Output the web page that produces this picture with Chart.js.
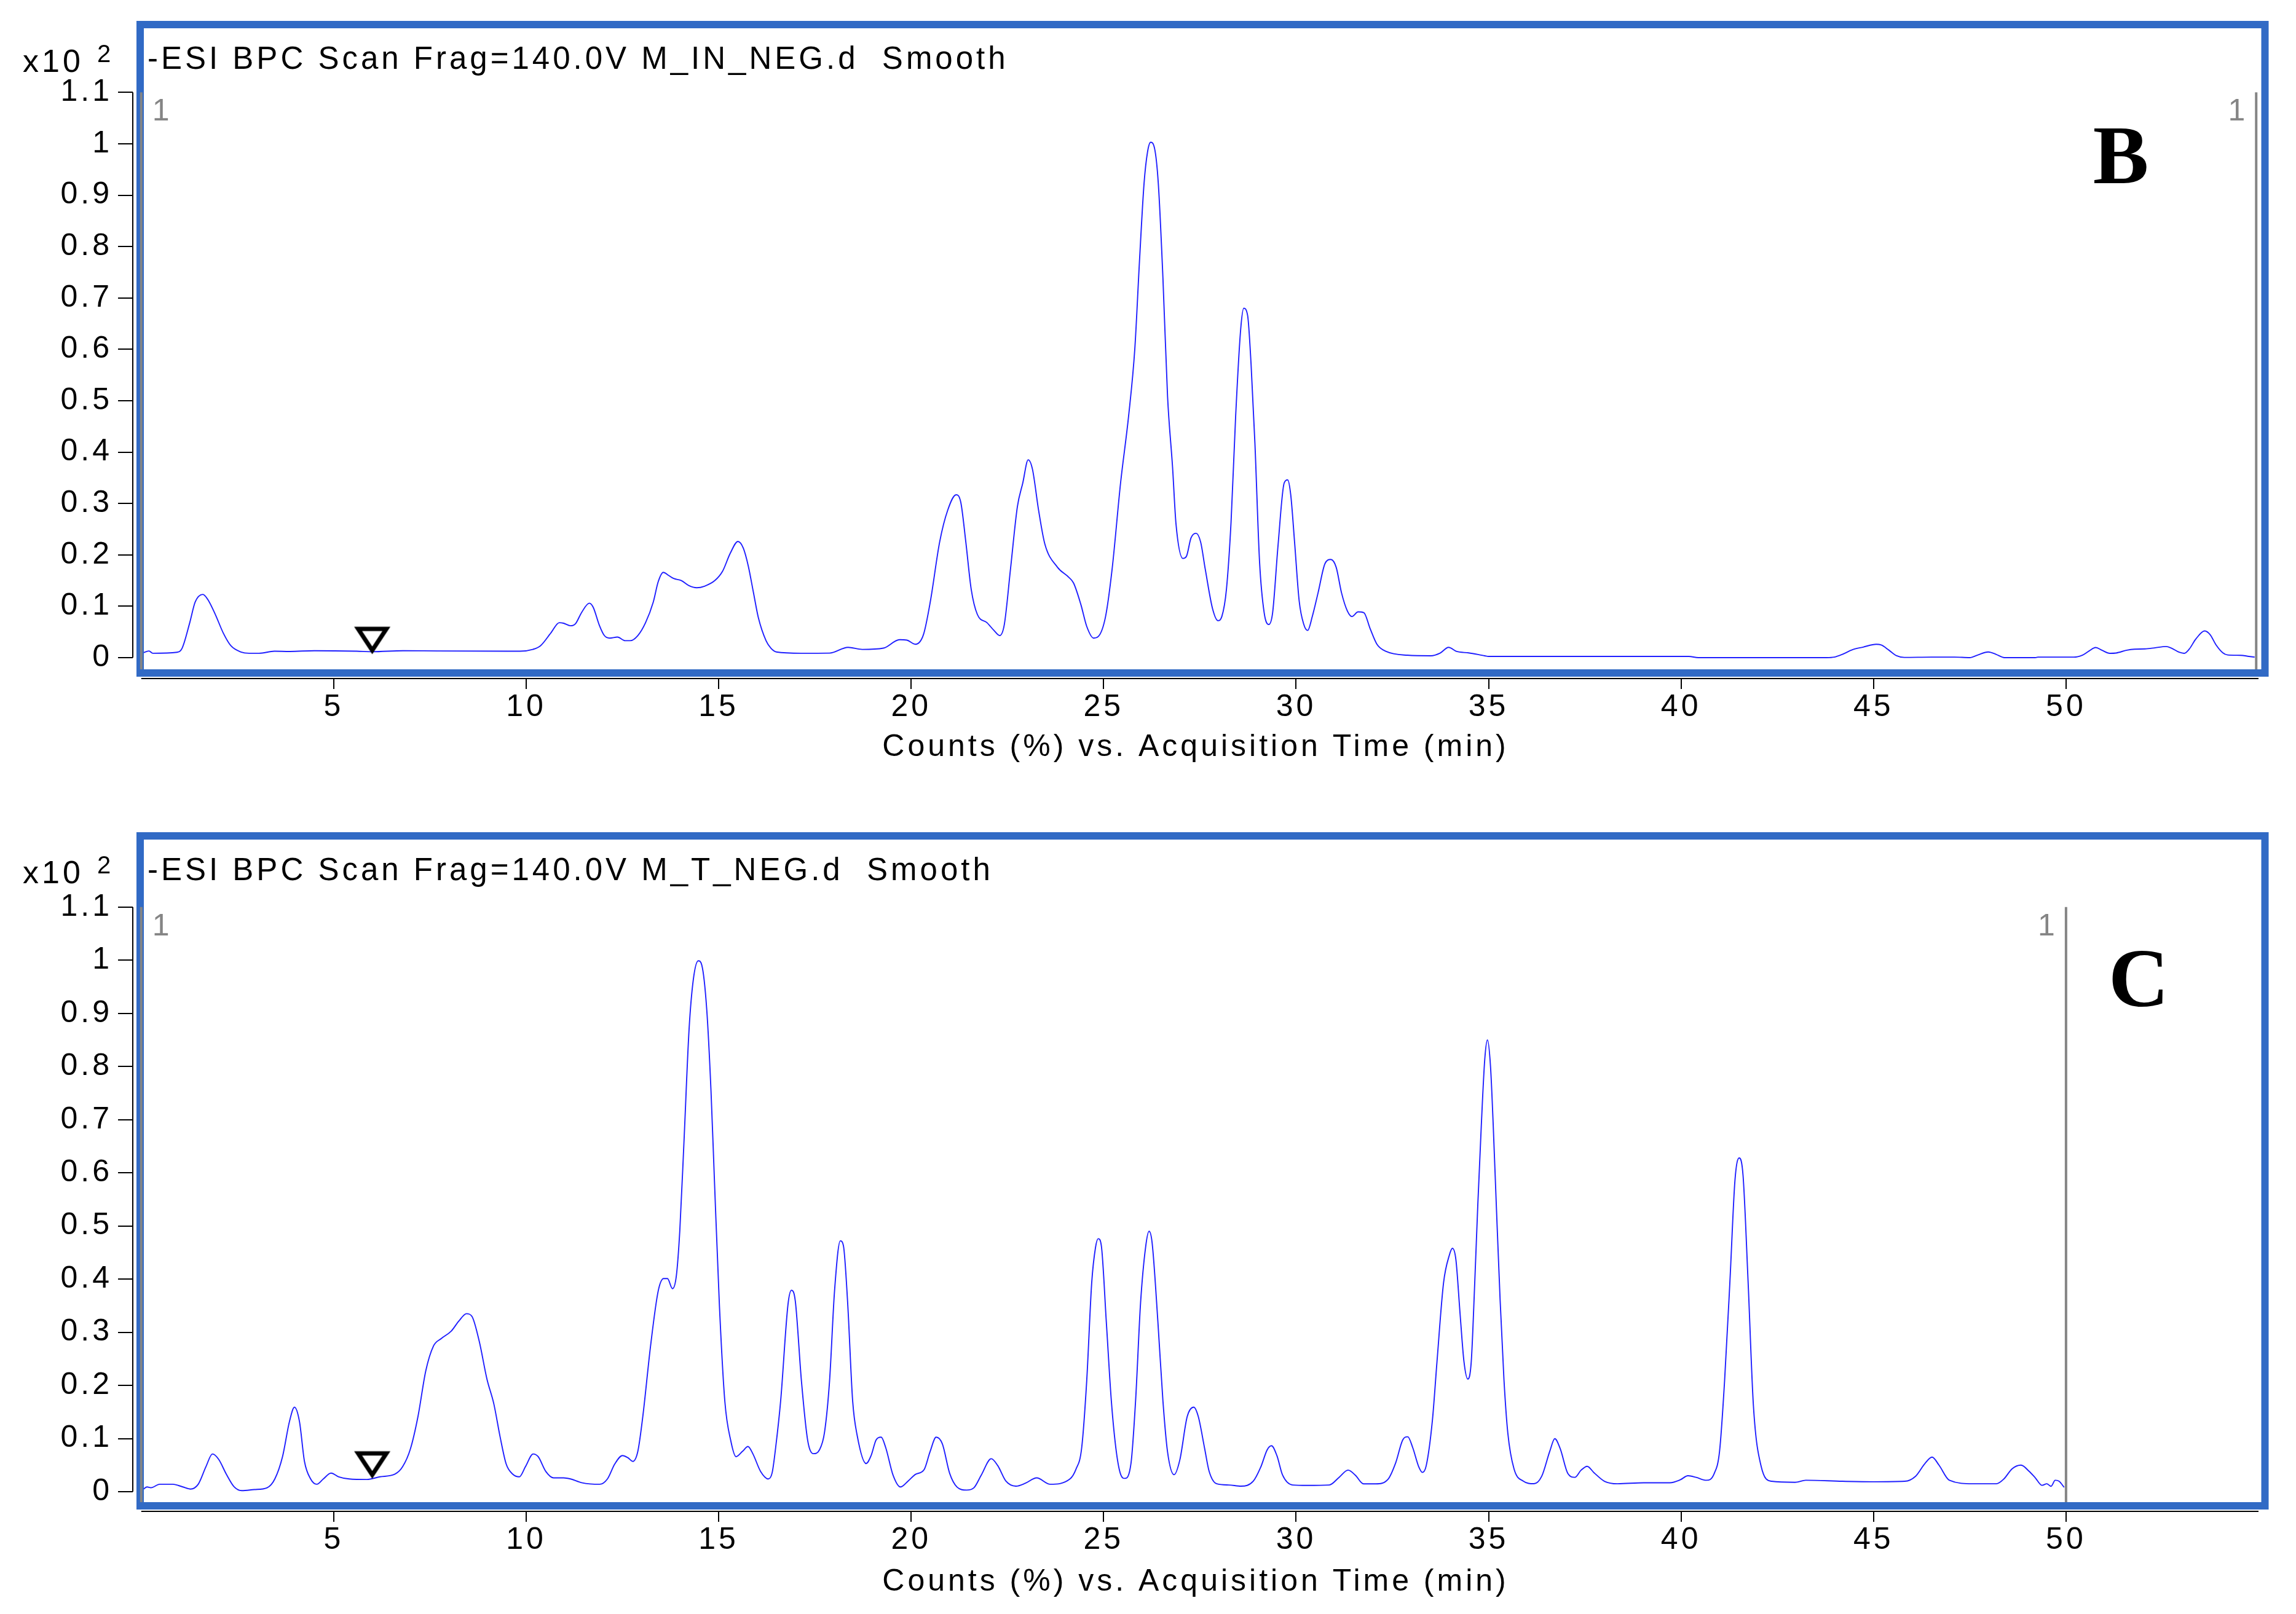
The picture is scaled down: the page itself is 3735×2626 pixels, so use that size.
<!DOCTYPE html>
<html>
<head>
<meta charset="utf-8">
<title>BPC chromatograms</title>
<script src="https://cdn.jsdelivr.net/npm/chart.js@4.4.1/dist/chart.umd.min.js"></script>
<style>
    html, body { margin: 0; padding: 0; background: #fff; }
    body { width: 3735px; height: 2626px; position: relative; overflow: hidden; }
    canvas { position: absolute; left: 0; }
</style>
</head>
<body>
<canvas id="chartB" width="3735" height="1300" style="top:0px"></canvas>
<canvas id="chartC" width="3735" height="1326" style="top:1300px"></canvas>
<script>
// Trace B: M_IN_NEG.d  (time in min, counts in x10^2 %)
const timeB = [0.05, 0.2, 0.3, 0.93, 1.06, 1.26, 1.4, 1.6, 1.73, 1.93, 2.13, 2.33, 2.59, 2.8, 3.06, 3.46, 3.86, 4.5, 5.6, 6.0, 6.8, 7.7, 9.57, 9.84,
    10.17, 10.37, 10.64, 10.86, 10.97, 11.15, 11.28, 11.44, 11.64, 11.74, 11.9, 12.03, 12.17, 12.37, 12.57, 12.7, 12.9, 13.1, 13.3, 13.43, 13.56, 13.7, 13.83,
    14.03, 14.23, 14.43, 14.63, 14.9, 15.1, 15.3, 15.5, 15.64, 15.77, 15.9, 16.03, 16.23, 16.36, 16.5, 17.14, 17.88, 18.36, 18.73, 19.28, 19.7, 19.89,
    20.11, 20.32, 20.5, 20.74, 20.95, 21.17, 21.29, 21.42, 21.56, 21.72, 21.97, 22.15, 22.3, 22.42, 22.58, 22.76, 22.9, 23.04, 23.15, 23.31, 23.47, 23.8,
    24.1, 24.22, 24.41, 24.56, 24.74, 24.86, 25.05, 25.22, 25.44, 25.65, 25.81, 25.93, 26.05, 26.14, 26.22, 26.32, 26.42, 26.54, 26.66, 26.79, 26.88,
    27.06, 27.15, 27.27, 27.4, 27.52, 27.64, 27.83, 27.97, 28.07, 28.19, 28.31, 28.43, 28.56, 28.64, 28.74, 28.83, 28.93, 29.05, 29.17, 29.29, 29.39,
    29.53, 29.69, 29.78, 29.86, 29.96, 30.08, 30.2, 30.3, 30.42, 30.57, 30.75, 30.9, 31.04, 31.18, 31.33, 31.45, 31.61, 31.76, 31.92, 32.1, 32.34,
    32.89, 33.5, 33.74, 33.96, 34.17, 34.48, 34.9, 35.0, 40.2, 40.45, 42.5, 43.78, 43.98, 44.19, 44.46, 44.73, 45.07, 45.2, 45.4, 45.6, 45.8, 46.5,
    47.1, 47.5, 47.7, 47.98, 48.18, 48.4, 49.2, 49.27, 50.2, 50.43, 50.6, 50.77, 50.93, 51.14, 51.3, 51.58, 51.78, 52.05, 52.3, 52.6, 52.74, 52.94,
    53.07, 53.2, 53.37, 53.6, 53.74, 53.9, 54.07, 54.2, 54.54, 54.75, 54.9];
const countsB = [0.0095, 0.013, 0.0085, 0.0105, 0.018, 0.068, 0.108, 0.123, 0.113, 0.083, 0.048, 0.023, 0.011, 0.0085, 0.0085, 0.0125, 0.012, 0.0135, 0.0125, 0.0115, 0.0135, 0.013, 0.0125, 0.0125,
    0.016, 0.023, 0.048, 0.068, 0.067, 0.062, 0.066, 0.088, 0.106, 0.098, 0.063, 0.043, 0.038, 0.040, 0.033, 0.033, 0.043, 0.068, 0.108, 0.148, 0.166, 0.160, 0.154,
    0.150, 0.140, 0.136, 0.139, 0.150, 0.168, 0.203, 0.226, 0.213, 0.178, 0.128, 0.078, 0.033, 0.018, 0.011, 0.0085, 0.0088, 0.020, 0.016, 0.0185, 0.035, 0.034,
    0.026, 0.045, 0.11, 0.225, 0.287, 0.317, 0.302, 0.225, 0.133, 0.084, 0.068, 0.053, 0.043, 0.0645, 0.172, 0.294, 0.340, 0.385, 0.367, 0.287, 0.222, 0.176,
    0.156, 0.145, 0.103, 0.061, 0.038, 0.041, 0.080, 0.172, 0.340, 0.471, 0.601, 0.770, 0.923, 0.984, 1.003, 0.992, 0.923, 0.739, 0.509, 0.371, 0.260,
    0.193, 0.197, 0.233, 0.242, 0.225, 0.172, 0.095, 0.072, 0.080, 0.133, 0.264, 0.471, 0.639, 0.680, 0.666, 0.571, 0.417, 0.187, 0.0875, 0.0645, 0.0875,
    0.218, 0.340, 0.346, 0.317, 0.225, 0.11, 0.0645, 0.053, 0.080, 0.126, 0.183, 0.191, 0.176, 0.126, 0.091, 0.080, 0.089, 0.0875, 0.057, 0.026, 0.012,
    0.0047, 0.0036, 0.0088, 0.020, 0.012, 0.0093, 0.0036, 0.0024, 0.0024, 0.0, 0.0, 0.0, 0.001, 0.0064, 0.0157, 0.0205, 0.026, 0.0245, 0.0145, 0.0036, 0.0004, 0.001,
    0.001, 0.0, 0.005, 0.011, 0.0064, 0.0, 0.0, 0.001, 0.001, 0.005, 0.013, 0.0197, 0.0145, 0.0084, 0.009, 0.0145, 0.0165, 0.017, 0.019, 0.0217, 0.0185, 0.0105,
    0.0084, 0.0165, 0.036, 0.052, 0.045, 0.0245, 0.0096, 0.0052, 0.0044, 0.0024, 0.001];

// Trace C: M_T_NEG.d
const timeC = [0.06, 0.15, 0.25, 0.48, 0.82, 1.08, 1.28, 1.48, 1.68, 1.85, 2.01, 2.21, 2.41, 2.61, 2.94, 3.27, 3.47, 3.67, 3.85, 3.98, 4.11, 4.24, 4.4,
    4.56, 4.73, 4.93, 5.13, 5.4, 5.86, 6.2, 6.59, 6.79, 6.99, 7.19, 7.39, 7.59, 7.79, 8.05, 8.25, 8.45, 8.59, 8.78, 8.98, 9.16, 9.32, 9.48, 9.65, 9.82,
    9.98, 10.18, 10.31, 10.51, 10.71, 10.97, 11.15, 11.44, 11.91, 12.11, 12.3, 12.5, 12.64, 12.77, 12.9, 13.03, 13.23, 13.43, 13.57, 13.67, 13.8, 13.9,
    13.99, 14.1, 14.23, 14.34, 14.47, 14.56, 14.69, 14.8, 14.89, 15.02, 15.16, 15.32, 15.45, 15.62, 15.76, 15.89, 16.09, 16.29, 16.39, 16.48, 16.61,
    16.8, 16.89, 16.99, 17.15, 17.31, 17.46, 17.62, 17.75, 17.88, 18.01, 18.16, 18.24, 18.35, 18.48, 18.6, 18.83, 18.96, 19.09, 19.22, 19.34, 19.53,
    19.72, 19.92, 20.11, 20.34, 20.49, 20.65, 20.81, 21.0, 21.19, 21.44, 21.63, 21.82, 22.08, 22.25, 22.46, 22.72, 22.97, 23.26, 23.61, 24.12, 24.28,
    24.43, 24.56, 24.69, 24.79, 24.86, 24.94, 25.07, 25.2, 25.33, 25.45, 25.55, 25.71, 25.83, 25.96, 26.09, 26.18, 26.26, 26.41, 26.54, 26.66, 26.83,
    26.98, 27.17, 27.34, 27.46, 27.62, 27.74, 27.94, 28.25, 28.57, 28.89, 29.08, 29.25, 29.36, 29.5, 29.65, 29.91, 30.29, 30.86, 31.12, 31.35, 31.54,
    31.75, 32.07, 32.39, 32.58, 32.77, 32.9, 33.03, 33.19, 33.28, 33.38, 33.54, 33.66, 33.83, 33.98, 34.06, 34.15, 34.26, 34.36, 34.46, 34.55, 34.64,
    34.72, 34.81, 34.9, 34.97, 35.05, 35.12, 35.2, 35.3, 35.4, 35.5, 35.66, 35.9, 36.18, 36.38, 36.59, 36.72, 36.86, 37.06, 37.24, 37.4, 37.56, 37.74,
    38.01, 38.35, 39.03, 39.71, 39.98, 40.18, 40.39, 40.66, 40.86, 41.0, 41.13, 41.27, 41.4, 41.51, 41.61, 41.74, 41.88, 42.08, 42.35, 42.96, 43.24,
    44.19, 45.0, 45.81, 46.09, 46.33, 46.52, 46.7, 46.97, 47.58, 48.19, 48.39, 48.6, 48.83, 49.04, 49.2, 49.38, 49.5, 49.61, 49.72, 49.82, 49.95];
const countsC = [0.005, 0.009, 0.0075, 0.014, 0.014, 0.009, 0.005, 0.014, 0.047, 0.071, 0.061, 0.033, 0.0094, 0.002, 0.004, 0.0075, 0.024, 0.066, 0.132, 0.159, 0.132, 0.057, 0.024,
    0.014, 0.024, 0.035, 0.028, 0.024, 0.023, 0.028, 0.033, 0.047, 0.080, 0.142, 0.227, 0.274, 0.288, 0.302, 0.321, 0.335, 0.330, 0.283, 0.212, 0.165, 0.104, 0.052, 0.033, 0.028,
    0.047, 0.071, 0.066, 0.038, 0.026, 0.026, 0.024, 0.017, 0.014, 0.024, 0.052, 0.068, 0.064, 0.057, 0.076, 0.142, 0.274, 0.378, 0.401, 0.401, 0.382, 0.406,
    0.491, 0.661, 0.869, 0.963, 0.999, 0.991, 0.907, 0.755, 0.585, 0.349, 0.170, 0.094, 0.066, 0.076, 0.085, 0.071, 0.038, 0.024, 0.036, 0.083, 0.171,
    0.352, 0.379, 0.359, 0.208, 0.0974, 0.0716, 0.079, 0.112, 0.208, 0.378, 0.472, 0.463, 0.356, 0.171, 0.105, 0.053, 0.068, 0.0974, 0.1026, 0.0827, 0.031,
    0.0089, 0.020, 0.0325, 0.042, 0.075, 0.1026, 0.090, 0.0346, 0.0089, 0.003, 0.0074, 0.031, 0.062, 0.049, 0.020, 0.0104, 0.016, 0.026, 0.014, 0.0236, 0.042,
    0.0827, 0.208, 0.393, 0.460, 0.476, 0.463, 0.319, 0.171, 0.075, 0.031, 0.025, 0.053, 0.171, 0.356, 0.460, 0.490, 0.468, 0.319, 0.171, 0.075, 0.032,
    0.060, 0.141, 0.159, 0.141, 0.0827, 0.0385, 0.0148, 0.0126, 0.0104, 0.020, 0.046, 0.079, 0.0864, 0.068, 0.031, 0.0126, 0.0118, 0.0126, 0.0273, 0.0406, 0.031,
    0.0148, 0.0148, 0.0236, 0.053, 0.0974, 0.1034, 0.0827, 0.046, 0.0363, 0.049, 0.134, 0.245, 0.393, 0.445, 0.458, 0.437, 0.334, 0.245, 0.212, 0.245, 0.393,
    0.540, 0.688, 0.813, 0.850, 0.800, 0.690, 0.540, 0.360, 0.210, 0.110, 0.043, 0.020, 0.015, 0.029, 0.0762, 0.0998, 0.081, 0.034, 0.027, 0.0403, 0.0478, 0.0356,
    0.0196, 0.0149, 0.0168, 0.0168, 0.0224, 0.030, 0.027, 0.0215, 0.034, 0.0762, 0.208, 0.397, 0.586, 0.628, 0.595, 0.397, 0.161, 0.0478, 0.0196, 0.0177, 0.0215,
    0.0196, 0.0187, 0.0196, 0.029, 0.0526, 0.065, 0.050, 0.0215, 0.0149, 0.0149, 0.0243, 0.0432, 0.050, 0.0384, 0.0262, 0.012, 0.0149, 0.0102, 0.0215, 0.0196, 0.0083];

const xTicks = [5, 10, 15, 20, 25, 30, 35, 40, 45, 50];
const yTicks = [0, 0.1, 0.2, 0.3, 0.4, 0.5, 0.6, 0.7, 0.8, 0.9, 1, 1.1];
const yTickLabels = ['0', '0.1', '0.2', '0.3', '0.4', '0.5', '0.6', '0.7', '0.8', '0.9', '1', '1.1'];

// open triangle marker and the grey range lines (min)
const markerB = [{x: 6.0, y: 0.032}];
const markerC = [{x: 6.0, y: 0.049}];
const rangeB = [0, 54.94];
const rangeC = [0, 50];

const FONT = '"Liberation Sans", Arial, sans-serif';

// inverted open triangle used as point style
function makeTriangle() {
    const c = document.createElement('canvas');
    c.width = 66;
    c.height = 50;
    const g = c.getContext('2d');
    g.strokeStyle = '#000';
    g.lineWidth = 7;
    g.lineJoin = 'miter';
    g.beginPath();
    g.moveTo(10, 5);
    g.lineTo(56, 5);
    g.lineTo(33, 40);
    g.closePath();
    g.stroke();
    return c;
}
const triangle = makeTriangle();

// blue frame, grey range lines, axis lines and the header texts
const framePlugin = {
    id: 'frame',
    beforeDraw(chart) {
        chart.ctx.letterSpacing = '5px';
    },
    afterDatasetsDraw(chart, args, o) {
        const ctx = chart.ctx;
        const a = chart.chartArea;
        const x = chart.scales.x;
        const y = chart.scales.y;
        const yTop = y.getPixelForValue(1.1);
        const yZero = y.getPixelForValue(0);
        const boxBottom = a.bottom - 9;
        ctx.save();

        // blue frame
        ctx.strokeStyle = '#316ac5';
        ctx.lineWidth = 12;
        ctx.strokeRect(a.left + 12, a.top, a.right + 10.5 - (a.left + 12), boxBottom - a.top);

        // grey range lines with their "1" labels
        ctx.strokeStyle = '#858585';
        ctx.lineWidth = 4;
        o.range.forEach(function(t) {
            const px = x.getPixelForValue(t);
            ctx.beginPath();
            ctx.moveTo(px, yTop);
            ctx.lineTo(px, boxBottom - 6);
            ctx.stroke();
        });
        ctx.letterSpacing = '0px';
        ctx.fillStyle = '#858585';
        ctx.font = '50px ' + FONT;
        ctx.textBaseline = 'alphabetic';
        ctx.textAlign = 'left';
        ctx.fillText('1', x.getPixelForValue(o.range[0]) + 18, yTop + 46);
        ctx.textAlign = 'right';
        ctx.fillText('1', x.getPixelForValue(o.range[1]) - 18, yTop + 46);

        // axis lines (y only spans 0..1.1, x spans the time range)
        ctx.strokeStyle = '#000';
        ctx.lineWidth = 2;
        ctx.beginPath();
        ctx.moveTo(a.left, yTop);
        ctx.lineTo(a.left, yZero);
        ctx.moveTo(x.getPixelForValue(0), a.bottom);
        ctx.lineTo(x.getPixelForValue(x.max), a.bottom);
        ctx.stroke();

        // header text and multiplier
        ctx.fillStyle = '#000';
        ctx.textAlign = 'left';
        ctx.letterSpacing = '5px';
        ctx.font = '51px ' + FONT;
        ctx.fillText(o.header, a.left + 24, a.top + 72);
        ctx.font = '52px ' + FONT;
        ctx.fillText('x10', 37, a.top + 77);
        ctx.font = '40px ' + FONT;
        ctx.fillText('2', 158, a.top + 61);

        // panel letter
        ctx.letterSpacing = '0px';
        ctx.font = 'bold 136px "Liberation Serif", "Times New Roman", serif';
        ctx.textAlign = 'center';
        ctx.fillText(o.letter, a.right + o.letterDx, a.top + o.letterDy);
        ctx.restore();
    }
};

function buildChart(id, cfg) {
    const lineData = cfg.time.map(function(t, i) {
        return {x: t, y: cfg.counts[i]};
    });
    return new Chart(document.getElementById(id), {
        type: 'line',
        data: {
            datasets: [{
                data: cfg.marker,
                showLine: false,
                pointStyle: triangle,
                pointRadius: 10,
                order: 0
            }, {
                data: lineData,
                borderColor: 'rgb(30, 30, 255)',
                borderWidth: 1.9,
                pointRadius: 0,
                fill: false,
                cubicInterpolationMode: 'monotone',
                order: 1
            }]
        },
        options: {
            responsive: false,
            animation: false,
            devicePixelRatio: 1,
            layout: { padding: { top: cfg.top, right: 61, bottom: 0, left: 0 } },
            plugins: {
                legend: { display: false },
                tooltip: { enabled: false },
                frame: { header: cfg.header, letter: cfg.letter, letterDx: cfg.letterDx, letterDy: cfg.letterDy, range: cfg.range }
            },
            scales: {
                x: {
                    type: 'linear',
                    min: -0.22,
                    max: 55,
                    afterFit: function(scale) { scale.height = cfg.xAxisHeight; },
                    afterBuildTicks: function(scale) {
                        scale.ticks = xTicks.map(function(v) { return {value: v}; });
                    },
                    border: { display: false },
                    grid: { drawOnChartArea: false, drawTicks: true, tickLength: 17, color: '#000', lineWidth: 2 },
                    ticks: {
                        autoSkip: false,
                        maxRotation: 0,
                        padding: 0,
                        color: '#000',
                        font: { family: FONT, size: 50 },
                        callback: function(v) { return String(v); }
                    },
                    title: {
                        display: true,
                        text: 'Counts (%) vs. Acquisition Time (min)',
                        color: '#000',
                        font: { family: FONT, size: 50 },
                        padding: { top: 0, bottom: cfg.titlePad }
                    }
                },
                y: {
                    type: 'linear',
                    min: cfg.yMin,
                    max: cfg.yMax,
                    afterFit: function(scale) { scale.width = 216; },
                    afterBuildTicks: function(scale) {
                        scale.ticks = yTicks.map(function(v) { return {value: v}; });
                    },
                    border: { display: false },
                    grid: { drawOnChartArea: false, drawTicks: true, tickLength: 24, color: '#000', lineWidth: 2 },
                    ticks: {
                        autoSkip: false,
                        padding: 9,
                        color: '#000',
                        font: { family: FONT, size: 50 },
                        callback: function(v, i) { return yTickLabels[i]; }
                    }
                }
            }
        },
        plugins: [framePlugin]
    });
}

buildChart('chartB', {
    time: timeB, counts: countsB, marker: markerB, range: rangeB,
    header: '-ESI BPC Scan Frag=140.0V M_IN_NEG.d  Smooth',
    letter: 'B', letterDx: -224, letterDy: 258,
    top: 40, yMin: -0.0407, yMax: 1.232, xAxisHeight: 196, titlePad: 54
});

buildChart('chartC', {
    time: timeC, counts: countsC, marker: markerC, range: rangeC,
    header: '-ESI BPC Scan Frag=140.0V M_T_NEG.d  Smooth',
    letter: 'C', letterDx: -195, letterDy: 277,
    top: 60, yMin: -0.037, yMax: 1.234, xAxisHeight: 167, titlePad: 22
});
</script>
</body>
</html>
